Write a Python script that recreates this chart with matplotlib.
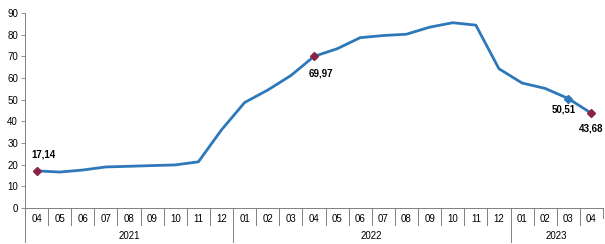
import numpy as np
import matplotlib.pyplot as plt
import matplotlib.transforms as mtransforms

plt.rcParams['font.family'] = ['Liberation Sans', 'DejaVu Sans']

months = ["04", "05", "06", "07", "08", "09", "10", "11", "12",
          "01", "02", "03", "04", "05", "06", "07", "08", "09", "10", "11", "12",
          "01", "02", "03", "04"]
years = ["2021", "2022", "2023"]
year_counts = [9, 12, 4]
values = [17.14, 16.59, 17.53, 18.95, 19.25, 19.58, 19.89, 21.31, 36.08,
          48.69, 54.44, 61.14, 69.97, 73.50, 78.62, 79.60, 80.21, 83.45, 85.51, 84.39, 64.27,
          57.68, 55.18, 50.51, 43.68]
labels = {0: "17,14", 12: "69,97", 23: "50,51", 24: "43,68"}

line_col = '#2E78BA'
mark_col = '#8B2346'

fig = plt.figure(figsize=(6.05, 2.44), dpi=100)
ax = fig.add_axes([25/605, 36/244, 578/605, 195/244])

x = np.arange(len(values))
ax.plot(x, values, color=line_col, lw=2, zorder=2)
for i in [0, 12, 24]:
    ax.plot(x[i], values[i], 'D', color=mark_col, ms=4, zorder=3)
ax.plot(x[23], values[23], 'D', color=line_col, ms=4, zorder=3)

# label offsets in points
offs = {0: (5, 12), 12: (5, -12), 23: (-3, -8), 24: (0, -11)}
for i, txt in labels.items():
    ax.annotate(txt, (x[i], values[i]), xytext=offs[i], textcoords='offset points',
                ha='center', va='center', fontsize=7, fontweight='bold')

ax.set_xlim(-0.5, len(values) - 0.5)
ax.set_ylim(0, 90)
ax.set_yticks(range(0, 91, 10))
ax.tick_params(axis='y', labelsize=7, length=3, width=0.6, color='#808080', pad=2)
ax.set_xticks([])
for s in ['top', 'right']:
    ax.spines[s].set_visible(False)
for s in ['left', 'bottom']:
    ax.spines[s].set_color('#808080')
    ax.spines[s].set_linewidth(0.7)

trans = mtransforms.blended_transform_factory(ax.transData, ax.transAxes)
px = 1 / 195
for i, m in enumerate(months):
    ax.text(i, -11 * px, m, transform=trans, ha='center', va='center', fontsize=7)
bounds = np.cumsum(year_counts)
for b in range(1, len(values)):
    yb = -34 * px if b in bounds else -17 * px
    ax.plot([b - 0.5, b - 0.5], [0, yb], transform=trans, color='#808080',
            lw=0.7, clip_on=False)
ax.plot([-0.5, -0.5], [0, -34 * px], transform=trans, color='#808080', lw=0.7, clip_on=False)
ax.plot([24.5, 24.5], [0, -10 * px], transform=trans, color='#808080', lw=0.7, clip_on=False)
start = 0
for y, c in zip(years, year_counts):
    ax.text(start + (c - 1) / 2, -28 * px, y, transform=trans, ha='center', va='center', fontsize=7)
    start += c

fig.savefig('out.png', dpi=100)
